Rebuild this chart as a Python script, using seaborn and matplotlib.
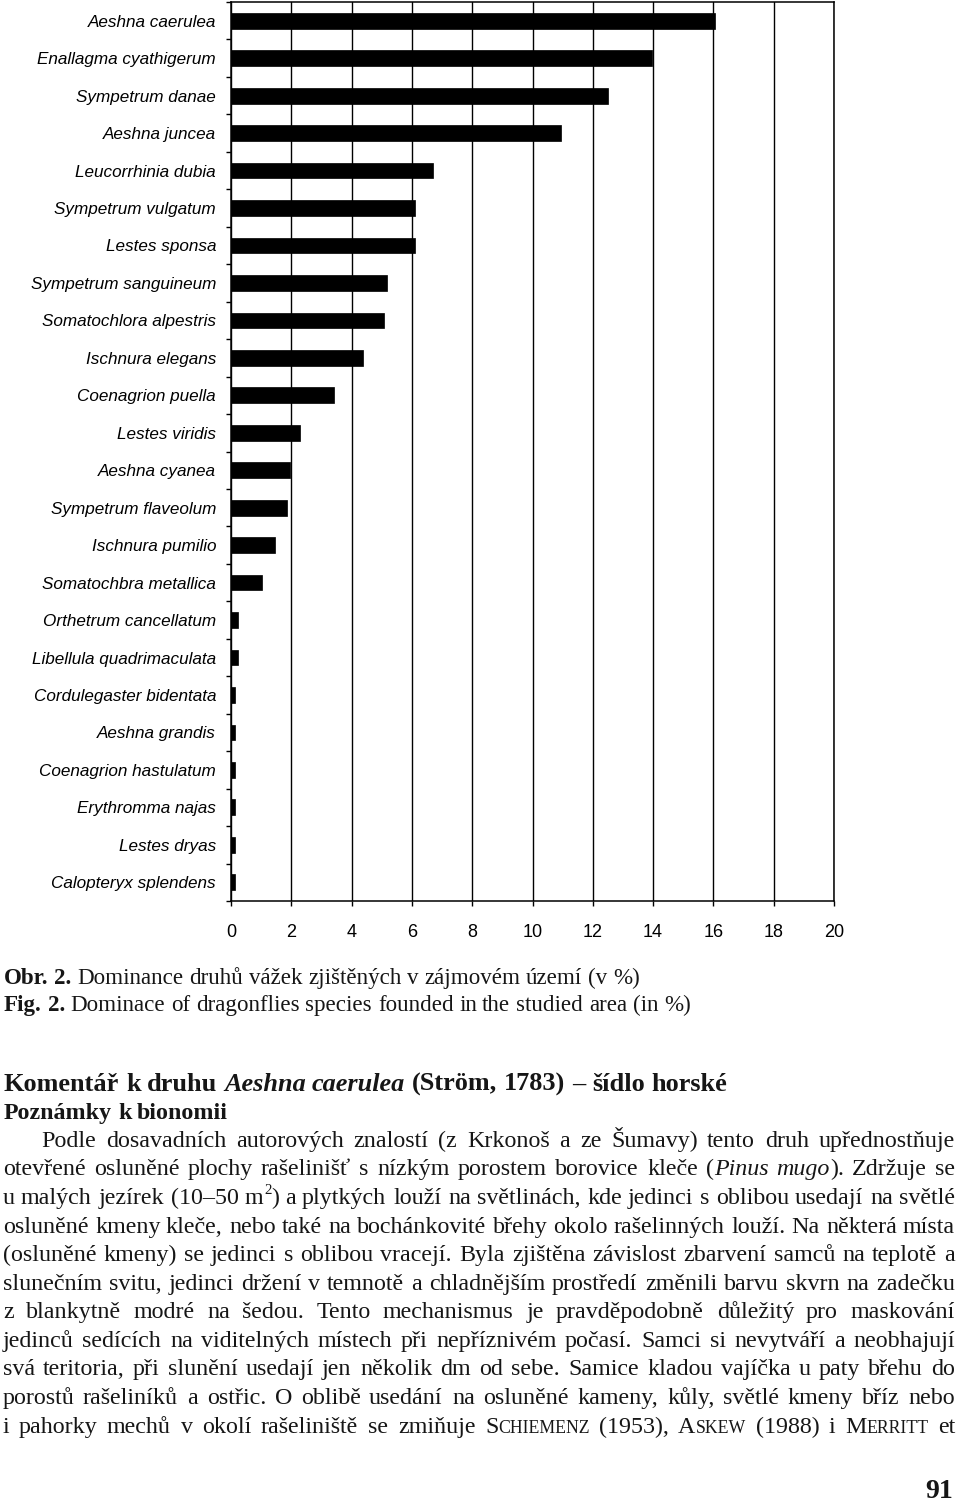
import matplotlib
matplotlib.use("Agg")
import matplotlib.pyplot as plt
import matplotlib.transforms as mtrans
import numpy as np
import pandas as pd
import seaborn as sns

# ---------------- data ----------------
species = [
    "Aeshna caerulea", "Enallagma cyathigerum", "Sympetrum danae", "Aeshna juncea",
    "Leucorrhinia dubia", "Sympetrum vulgatum", "Lestes sponsa", "Sympetrum sanguineum",
    "Somatochlora alpestris", "Ischnura elegans", "Coenagrion puella", "Lestes viridis",
    "Aeshna cyanea", "Sympetrum flaveolum", "Ischnura pumilio", "Somatochbra metallica",
    "Orthetrum cancellatum", "Libellula quadrimaculata", "Cordulegaster bidentata",
    "Aeshna grandis", "Coenagrion hastulatum", "Erythromma najas", "Lestes dryas",
    "Calopteryx splendens",
]
dominance = [
    16.05, 13.98, 12.52, 10.96, 6.70, 6.10, 6.10, 5.18, 5.08, 4.38, 3.42, 2.28,
    1.95, 1.85, 1.46, 1.02, 0.24, 0.24, 0.12, 0.12, 0.12, 0.12, 0.12, 0.12,
]
x_ticks = [0, 2, 4, 6, 8, 10, 12, 14, 16, 18, 20]

caption_cz = [("Obr. 2.", "b"), (" Dominance druhů vážek zjištěných v zájmovém území (v %)", "r")]
caption_en = [("Fig. 2.", "b"), (" Dominace of dragonflies species founded in the studied area (in %)", "r")]
heading = [("Komentář k druhu ", "b"), ("Aeshna caerulea", "bi"), (" (Ström, 1783) – šídlo horské", "b")]
subheading = [("Poznámky k bionomii", "b")]
body_lines = [
    [("Podle dosavadních autorových znalostí (z Krkonoš a ze Šumavy) tento druh upřednostňuje", "r")],
    [("otevřené osluněné plochy rašelinišť s nízkým porostem borovice kleče (", "r"), ("Pinus mugo", "i"), ("). Zdržuje se", "r")],
    [("u malých jezírek (10–50 m", "r"), ("2", "sup"), (") a plytkých louží na světlinách, kde jedinci s oblibou usedají na světlé", "r")],
    [("osluněné kmeny kleče, nebo také na bochánkovité břehy okolo rašelinných louží. Na některá místa", "r")],
    [("(osluněné kmeny) se jedinci s oblibou vracejí. Byla zjištěna závislost zbarvení samců na teplotě a", "r")],
    [("slunečním svitu, jedinci držení v temnotě a chladnějším prostředí změnili barvu skvrn na zadečku", "r")],
    [("z blankytně modré na šedou. Tento mechanismus je pravděpodobně důležitý pro maskování", "r")],
    [("jedinců sedících na viditelných místech při nepříznivém počasí. Samci si nevytváří a neobhajují", "r")],
    [("svá teritoria, při slunění usedají jen několik dm od sebe. Samice kladou vajíčka u paty břehu do", "r")],
    [("porostů rašeliníků a ostřic. O oblibě usedání na osluněné kameny, kůly, světlé kmeny bříz nebo", "r")],
    [("i pahorky mechů v okolí rašeliniště se zmiňuje ", "r"), ("Schiemenz", "sc"), (" (1953), ", "r"),
     ("Askew", "sc"), (" (1988) i ", "r"), ("Merritt", "sc"), (" et", "r")],
]
page_number = "91"

# ---------------- figure / chart ----------------
W, H = 960, 1509
sns.set_theme(style="white")
plt.rcParams["font.family"] = ["Liberation Sans", "DejaVu Sans"]

fig = plt.figure(figsize=(W / 100, H / 100), dpi=100)
fig.patch.set_facecolor("white")
ax = fig.add_axes([231 / W, 1 - 901 / H, (834 - 231) / W, (901 - 2) / H])

df = pd.DataFrame({"species": species, "dominance": dominance})
sns.barplot(data=df, x="dominance", y="species", orient="h", color="black",
            saturation=1, width=0.42, edgecolor="black", linewidth=0.5, ax=ax)
ax.set_xlim(0, 20)
ax.set_ylim(len(species) - 0.5, -0.5)
ax.set_xticks(x_ticks)
ax.set_xticklabels([str(v) for v in x_ticks])
ax.set_axisbelow(True)
ax.grid(False)
ax.xaxis.grid(True, color="black", linewidth=1.0)
for s in ax.spines.values():
    s.set_visible(True)
    s.set_color("black")
    s.set_linewidth(1.1)
ax.tick_params(axis="x", which="major", bottom=True, length=3.6, width=1,
               color="black", direction="out", pad=13.0, labelsize=13, labelcolor="black")
ax.set_yticks(np.arange(-0.5, len(species), 1), minor=True)
ax.tick_params(axis="y", which="minor", left=True, length=3.6, width=1,
               color="black", direction="out")
ax.tick_params(axis="y", which="major", left=True, length=0, pad=10.8,
               labelsize=12.3, labelcolor="black")
for lab in ax.get_yticklabels():
    lab.set_fontstyle("italic")
ax.set_xlabel("")
ax.set_ylabel("")

# ---------------- text block ----------------
renderer = fig.canvas.get_renderer()
IDT = mtrans.IdentityTransform()
SERIF = ["Liberation Serif", "DejaVu Serif"]
TXT_COLOR = "#161616"
STYLES = {
    "r": dict(weight="normal", style="normal"),
    "i": dict(weight="normal", style="italic"),
    "b": dict(weight="bold", style="normal"),
    "bi": dict(weight="bold", style="italic"),
}


def pieces(text, st, size):
    if st == "sup":
        return [(text, dict(weight="normal", style="normal", size=size * 0.62), size * 0.42 * 100 / 72)]
    if st == "sc":
        out = []
        for ch in text:
            big = ch.isupper() or not ch.isalpha()
            key = "big" if big else "small"
            if out and out[-1][0] == key:
                out[-1][1] += ch.upper()
            else:
                out.append([key, ch.upper()])
        return [(s, dict(weight="normal", style="normal", size=size if k == "big" else size * 0.74), 0)
                for k, s in out]
    return [(text, dict(size=size, **STYLES[st]), 0)]


def split_words(runs):
    words = [[]]
    for text, st in runs:
        for ch in text:
            if ch == " ":
                if words[-1]:
                    words.append([])
            else:
                if words[-1] and words[-1][-1][1] == st:
                    words[-1][-1][0] += ch
                else:
                    words[-1].append([ch, st])
    return [w for w in words if w]


def build(runs, size):
    built = []
    for w in split_words(runs):
        parts, wsum = [], 0.0
        for text, st in w:
            for s, kw, dy in pieces(text, st, size):
                t = fig.text(0, 0, s, transform=IDT, family=SERIF, color=TXT_COLOR,
                             va="baseline", ha="left", **kw)
                wd = t.get_window_extent(renderer).width
                parts.append((t, dy, wd))
                wsum += wd
        built.append((parts, wsum))
    a = fig.text(0, 0, "n n", transform=IDT, family=SERIF, size=size)
    b = fig.text(0, 0, "nn", transform=IDT, family=SERIF, size=size)
    space = a.get_window_extent(renderer).width - b.get_window_extent(renderer).width
    a.remove()
    b.remove()
    return built, space


def natural(built, space):
    return sum(w for _, w in built) + space * (len(built) - 1)


def discard(built):
    for parts, _ in built:
        for t, _, _ in parts:
            t.remove()


def place(built, space, x0, y_base, x1=None):
    n = len(built)
    if x1 is not None and n > 1:
        gap = (x1 - x0 - sum(w for _, w in built)) / (n - 1)
    else:
        gap = space
    x = x0
    for parts, _ in built:
        for t, dy, wd in parts:
            t.set_position((round(x), round(H - y_base + dy)))
            x += wd
        x += gap


def fit_size(runs_list, target, base=13.0):
    widest = 0
    for runs in runs_list:
        b, sp = build(runs, base)
        widest = max(widest, natural(b, sp))
        discard(b)
    return base * target / widest


def draw_line(runs, size, x0, y_base, x1=None):
    b, sp = build(runs, size)
    place(b, sp, x0, y_base, x1)


# captions
cap_size = fit_size([caption_en], 682)
draw_line(caption_cz, cap_size, 4, 984)
draw_line(caption_en, cap_size, 4, 1011)

# headings
head_size = fit_size([heading], 718)
draw_line(heading, head_size, 4, 1091)
sub_size = fit_size([subheading], 223)
draw_line(subheading, sub_size, 4, 1119)

# body (justified)
body_size = fit_size(body_lines, 945)
for i, runs in enumerate(body_lines):
    x0 = 41 if i == 0 else 3
    draw_line(runs, body_size, x0, 1146.7 + 28.6 * i, 955)

# page number
fig.text(953, H - 1498, page_number, transform=IDT, family=SERIF, weight="bold",
         size=20, color=TXT_COLOR, ha="right", va="baseline")

fig.savefig("out.png", dpi=100, facecolor="white")
